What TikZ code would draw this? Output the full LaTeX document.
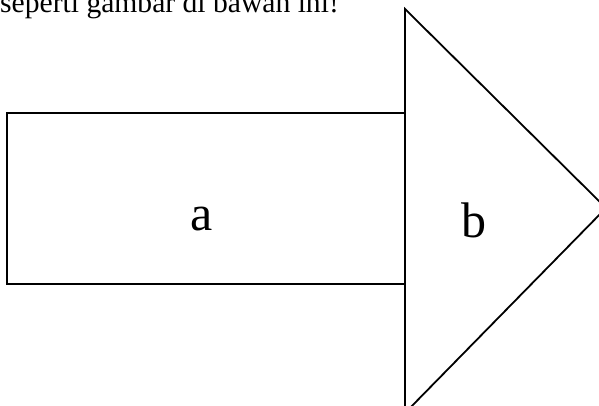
\documentclass[tikz,border=0pt]{standalone}
\usepackage{fontspec}
\setmainfont{Liberation Serif}
\begin{document}
\begin{tikzpicture}[x=1pt,y=-1pt,
  outline/.style={draw=black, line width=1.8pt, line join=miter},
  lbl/.style={inner sep=0pt, anchor=base, font=\fontsize{50}{60}\selectfont}]
\useasboundingbox (0,0) rectangle (599,406);
\clip (0,0) rectangle (599,406);
\node[anchor=base west, inner sep=0pt, font=\fontsize{29.6}{35}\selectfont] (cap) at (0,12.5) {seperti gambar di bawah ini!};
\draw[outline] (7,113) rectangle (405,284);
\draw[outline] (405,9) -- (606,208) -- (405,413) -- cycle;
\node[lbl] (a) at (202,230) {a};
\node[lbl] (b) at (474,237) {b};
\end{tikzpicture}
\end{document}
